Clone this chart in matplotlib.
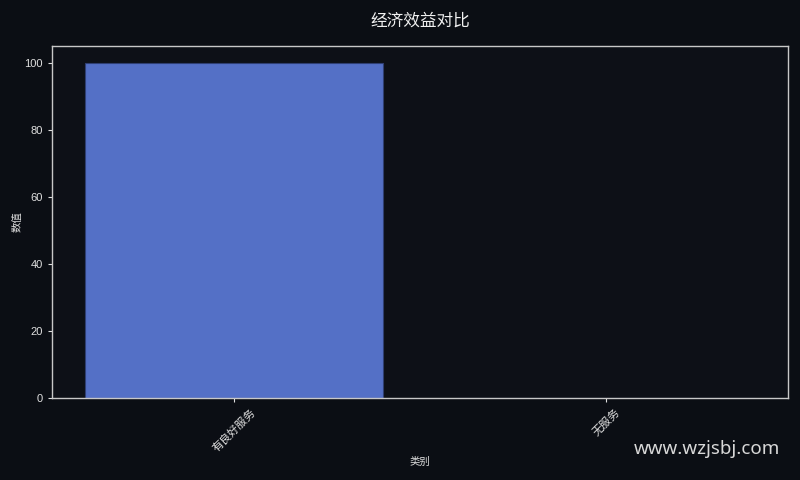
import matplotlib
matplotlib.use("Agg")
import matplotlib.pyplot as plt

plt.rcParams['font.family'] = ['Liberation Sans', 'Noto Sans CJK SC', 'DejaVu Sans']

categories = ["有良好服务", "无服务"]
values = [100, 0]

bg = "#0b0e14"
fig = plt.figure(figsize=(8, 4.8), dpi=100, facecolor=bg)
ax = fig.add_axes([0.065, 0.171, 0.92, 0.733])
ax.set_facecolor("#0d1017")

ax.bar(categories, values, width=0.8, color="#5470c6", edgecolor="#2f3f73", linewidth=0.8)

for s in ax.spines.values():
    s.set_color("#c8c8c8")
    s.set_linewidth(1)
ax.tick_params(colors="#e0e0e0", labelsize=8, length=3)
ax.tick_params(axis='x', labelrotation=45)
for lbl in ax.get_xticklabels():
    lbl.set_ha('center')

ax.set_xlabel("类别", color="#e0e0e0", fontsize=7.5, labelpad=2)
ax.set_ylabel("数值", color="#e0e0e0", fontsize=7.5, labelpad=1)
ax.set_title("经济效益对比", color="#f0f0f0", fontsize=12, pad=15)

fig.text(0.975, 0.065, "www.wzjsbj.com", color="#d8d8d8", fontsize=13.5,
         ha="right", va="center", family=["Noto Sans", "DejaVu Sans"])

fig.savefig("out.png", dpi=100, facecolor=bg)
